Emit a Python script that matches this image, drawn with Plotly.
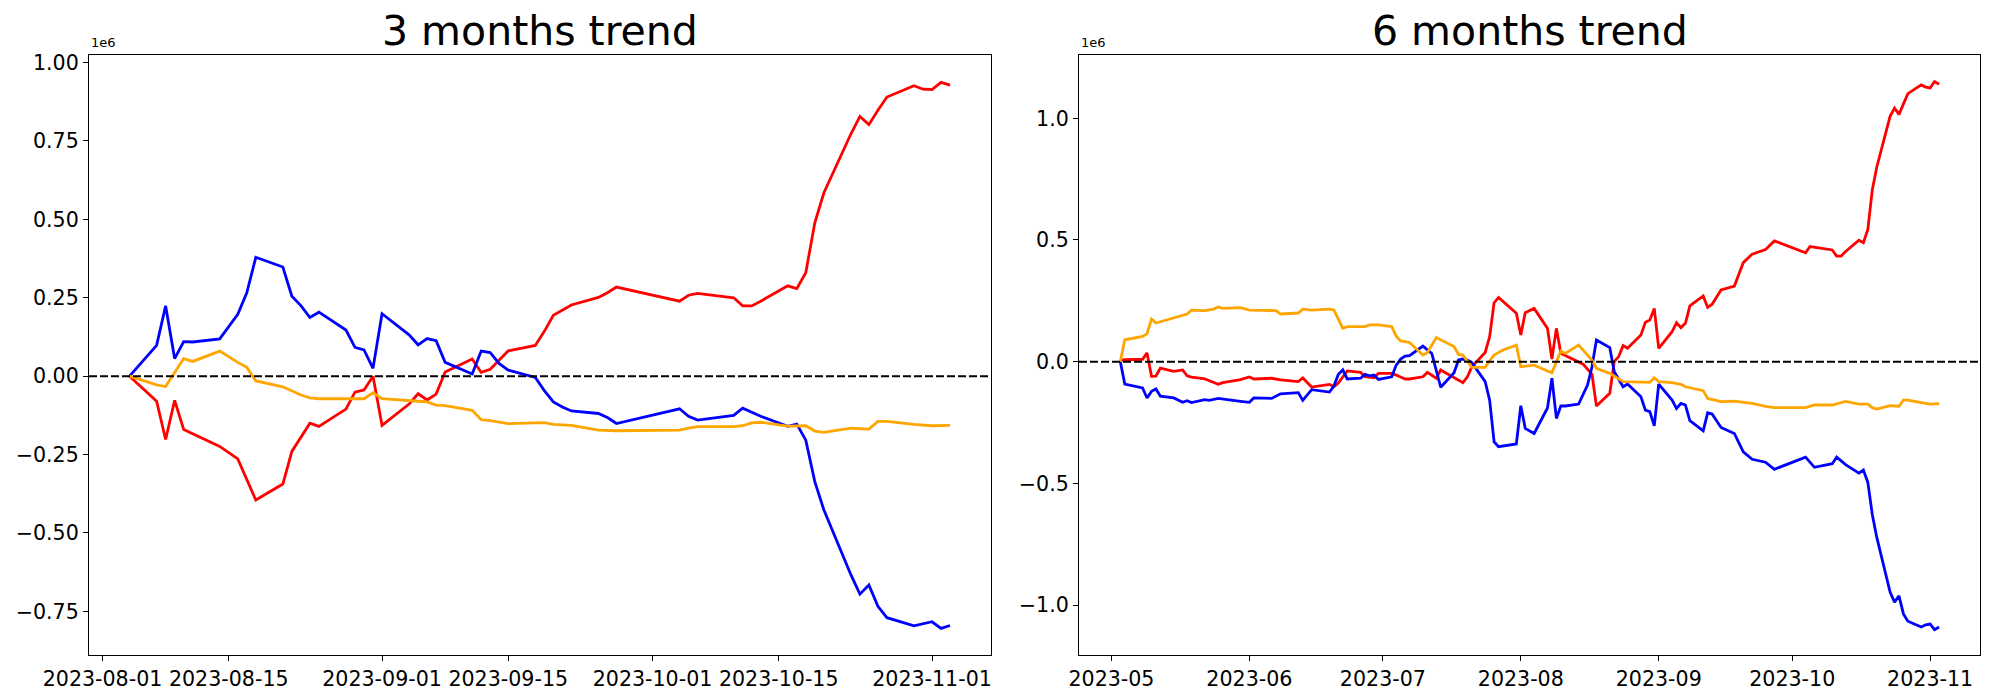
import plotly.graph_objects as go

# ---------------- 3 months data (values in units of 1e6) ----------------
m3_blue_dates = ["08-04","08-07","08-08","08-09","08-10","08-11","08-14","08-16","08-17","08-18",
                 "08-21","08-22","08-23","08-24","08-25","08-28","08-29","08-30","08-31","09-01",
                 "09-04","09-05","09-06","09-07","09-08","09-11","09-12","09-13","09-14","09-15",
                 "09-18","09-19","09-20","09-21","09-22","09-25","09-26","09-27","10-04","10-05",
                 "10-06","10-10","10-11","10-13","10-16","10-17","10-18","10-19","10-20","10-23",
                 "10-24","10-25","10-26","10-27","10-30","11-01","11-02","11-03"]
m3_blue_vals = [0.0, 0.098, 0.224, 0.056, 0.110, 0.109, 0.119, 0.197, 0.266, 0.379,
                0.348, 0.255, 0.225, 0.187, 0.204, 0.147, 0.092, 0.084, 0.025, 0.199,
                0.132, 0.100, 0.120, 0.113, 0.044, 0.007, 0.080, 0.075, 0.040, 0.019,
                -0.004, -0.046, -0.082, -0.098, -0.111, -0.119, -0.132, -0.151, -0.104, -0.128,
                -0.140, -0.125, -0.102, -0.128, -0.160, -0.153, -0.204, -0.336, -0.426, -0.633,
                -0.695, -0.666, -0.734, -0.770, -0.796, -0.783, -0.804, -0.795]

m3_red_dates = ["08-04","08-07","08-08","08-09","08-10","08-14","08-16","08-18","08-21","08-22",
                "08-24","08-25","08-28","08-29","08-30","08-31","09-01","09-04","09-05","09-06",
                "09-07","09-08","09-11","09-12","09-13","09-14","09-15","09-18","09-19","09-20",
                "09-21","09-22","09-25","09-26","09-27","10-04","10-05","10-06","10-10","10-11",
                "10-12","10-13","10-16","10-17","10-18","10-19","10-20","10-23","10-24","10-25",
                "10-26","10-27","10-30","10-31","11-01","11-02","11-03"]
m3_red_vals = [0.0, -0.080, -0.202, -0.077, -0.170, -0.224, -0.264, -0.395, -0.344, -0.240,
               -0.150, -0.160, -0.105, -0.051, -0.044, 0.0, -0.157, -0.089, -0.056, -0.076,
               -0.057, 0.013, 0.055, 0.012, 0.022, 0.053, 0.081, 0.098, 0.143, 0.194,
               0.210, 0.227, 0.251, 0.266, 0.284, 0.239, 0.258, 0.264, 0.250, 0.224,
               0.224, 0.239, 0.288, 0.279, 0.330, 0.489, 0.584, 0.772, 0.828, 0.802,
               0.848, 0.890, 0.926, 0.915, 0.914, 0.937, 0.928]

m3_orange_dates = ["08-04","08-07","08-08","08-10","08-11","08-14","08-16","08-17","08-18","08-21",
                   "08-23","08-24","08-25","08-30","08-31","09-01","09-05","09-06","09-07","09-08",
                   "09-11","09-12","09-13","09-15","09-19","09-20","09-22","09-25","09-27","10-04",
                   "10-05","10-06","10-10","10-11","10-12","10-13","10-16","10-18","10-19","10-20",
                   "10-23","10-25","10-26","10-27","10-30","11-01","11-03"]
m3_orange_vals = [0.0, -0.028, -0.033, 0.056, 0.047, 0.080, 0.044, 0.028, -0.015, -0.034,
                  -0.060, -0.069, -0.072, -0.072, -0.053, -0.072, -0.080, -0.082, -0.092, -0.094,
                  -0.109, -0.139, -0.142, -0.151, -0.148, -0.154, -0.157, -0.172, -0.174, -0.172,
                  -0.166, -0.161, -0.161, -0.158, -0.149, -0.147, -0.159, -0.158, -0.175, -0.179,
                  -0.166, -0.169, -0.144, -0.144, -0.154, -0.158, -0.157]

# ---------------- 6 months data (values in units of 1e6) ----------------
m6_blue_dates = ["05-03","05-04","05-08","05-09","05-10","05-11","05-12","05-15","05-17","05-18",
                 "05-19","05-22","05-23","05-25","05-30","06-01","06-02","06-06","06-08","06-12",
                 "06-13","06-15","06-19","06-20","06-21","06-22","06-23","06-26","06-27","06-28",
                 "06-29","06-30","07-03","07-04","07-05","07-06","07-07","07-10","07-12","07-14",
                 "07-17","07-18","07-19","07-20","07-21","07-24","07-25","07-26","07-27","07-31",
                 "08-01","08-02","08-04","08-07","08-08","08-09","08-10","08-11","08-14","08-16",
                 "08-17","08-18","08-21","08-22","08-24","08-25","08-28","08-29","08-30","08-31",
                 "09-01","09-04","09-05","09-06","09-07","09-08","09-11","09-12","09-13","09-15",
                 "09-18","09-20","09-22","09-25","09-27","10-04","10-06","10-10","10-11","10-13",
                 "10-16","10-17","10-18","10-19","10-20","10-23","10-24","10-25","10-26","10-27",
                 "10-30","10-31","11-01","11-02","11-03"]
m6_blue_vals = [0.0, -0.092, -0.108, -0.149, -0.122, -0.112, -0.142, -0.149, -0.167, -0.160,
                -0.168, -0.156, -0.159, -0.151, -0.163, -0.167, -0.149, -0.151, -0.132, -0.127,
                -0.159, -0.115, -0.125, -0.100, -0.052, -0.034, -0.071, -0.068, -0.052, -0.058,
                -0.055, -0.073, -0.062, -0.014, 0.011, 0.023, 0.025, 0.064, 0.034, -0.105,
                -0.045, 0.007, 0.011, 0.007, -0.004, -0.082, -0.158, -0.329, -0.349, -0.338,
                -0.181, -0.274, -0.295, -0.190, -0.068, -0.233, -0.182, -0.182, -0.174, -0.096,
                -0.021, 0.089, 0.058, -0.041, -0.103, -0.092, -0.144, -0.199, -0.205, -0.264,
                -0.092, -0.158, -0.192, -0.171, -0.178, -0.242, -0.284, -0.210, -0.215, -0.270,
                -0.295, -0.370, -0.401, -0.413, -0.442, -0.392, -0.434, -0.419, -0.392, -0.423,
                -0.458, -0.445, -0.496, -0.628, -0.721, -0.946, -0.988, -0.962, -1.036, -1.066,
                -1.090, -1.081, -1.078, -1.101, -1.090]

m6_red_dates = ["05-03","05-04","05-08","05-09","05-10","05-11","05-12","05-15","05-17","05-18",
                "05-19","05-22","05-23","05-25","05-26","05-30","06-01","06-02","06-06","06-08",
                "06-12","06-13","06-15","06-19","06-20","06-21","06-23","06-26","06-27","06-29",
                "06-30","07-03","07-04","07-06","07-07","07-10","07-11","07-13","07-14","07-19",
                "07-20","07-21","07-24","07-25","07-26","07-27","07-31","08-01","08-02","08-04",
                "08-07","08-08","08-09","08-10","08-11","08-15","08-17","08-18","08-21","08-22",
                "08-23","08-24","08-25","08-28","08-29","08-30","08-31","09-01","09-04","09-05",
                "09-06","09-07","09-08","09-11","09-12","09-13","09-15","09-18","09-20","09-22",
                "09-25","09-27","10-04","10-05","10-10","10-11","10-12","10-13","10-16","10-17",
                "10-18","10-19","10-20","10-23","10-24","10-25","10-27","10-30","10-31","11-01",
                "11-02","11-03"]
m6_red_vals = [0.005, 0.008, 0.010, 0.036, -0.060, -0.059, -0.026, -0.040, -0.034, -0.058,
               -0.063, -0.071, -0.078, -0.093, -0.086, -0.074, -0.063, -0.071, -0.068, -0.075,
               -0.082, -0.067, -0.104, -0.093, -0.103, -0.088, -0.038, -0.044, -0.062, -0.066,
               -0.048, -0.048, -0.055, -0.071, -0.071, -0.062, -0.044, -0.068, -0.034, -0.086,
               -0.062, -0.021, 0.038, 0.103, 0.242, 0.264, 0.199, 0.110, 0.201, 0.219,
               0.137, 0.011, 0.137, 0.034, 0.025, -0.010, -0.052, -0.182, -0.130, 0.000,
               0.021, 0.066, 0.055, 0.110, 0.162, 0.171, 0.219, 0.055, 0.123, 0.160,
               0.140, 0.158, 0.229, 0.270, 0.223, 0.236, 0.295, 0.311, 0.407, 0.442,
               0.461, 0.496, 0.447, 0.473, 0.459, 0.434, 0.434, 0.453, 0.499, 0.489,
               0.543, 0.706, 0.799, 1.008, 1.042, 1.016, 1.101, 1.137, 1.128, 1.125,
               1.151, 1.140]

m6_orange_dates = ["05-03","05-04","05-08","05-09","05-10","05-11","05-18","05-19","05-22","05-24",
                   "05-25","05-26","05-30","06-01","06-07","06-08","06-12","06-13","06-15","06-19",
                   "06-20","06-22","06-23","06-27","06-28","06-30","07-03","07-04","07-05","07-07",
                   "07-10","07-11","07-13","07-17","07-18","07-19","07-21","07-24","07-25","07-26",
                   "07-28","07-31","08-01","08-04","08-07","08-08","08-10","08-11","08-14","08-17",
                   "08-18","08-21","08-24","08-30","08-31","09-01","09-04","09-06","09-07","09-11",
                   "09-12","09-15","09-18","09-22","09-25","09-27","10-04","10-06","10-10","10-11",
                   "10-13","10-16","10-18","10-19","10-20","10-23","10-25","10-26","10-27","10-30",
                   "11-01","11-03"]
m6_orange_vals = [0.0, 0.090, 0.104, 0.115, 0.175, 0.159, 0.196, 0.212, 0.210, 0.216,
                  0.225, 0.219, 0.222, 0.212, 0.210, 0.196, 0.200, 0.216, 0.212, 0.216,
                  0.212, 0.137, 0.144, 0.144, 0.151, 0.151, 0.144, 0.105, 0.085, 0.079,
                  0.027, 0.037, 0.099, 0.062, 0.030, 0.027, -0.023, -0.023, 0.004, 0.027,
                  0.048, 0.068, -0.021, -0.014, -0.038, -0.045, 0.044, 0.034, 0.068, 0.007,
                  -0.027, -0.048, -0.082, -0.085, -0.066, -0.082, -0.086, -0.093, -0.103, -0.119,
                  -0.151, -0.164, -0.162, -0.171, -0.184, -0.189, -0.189, -0.178, -0.178, -0.174,
                  -0.163, -0.174, -0.174, -0.189, -0.195, -0.181, -0.183, -0.158, -0.158, -0.168,
                  -0.174, -0.172]

titles = ["3 months trend", "6 months trend"]
m3_xticks = ["2023-08-01", "2023-08-15", "2023-09-01", "2023-09-15", "2023-10-01", "2023-10-15", "2023-11-01"]
m6_xticks = ["2023-05-01", "2023-06-01", "2023-07-01", "2023-08-01", "2023-09-01", "2023-10-01", "2023-11-01"]
m6_xtick_text = ["2023-05", "2023-06", "2023-07", "2023-08", "2023-09", "2023-10", "2023-11"]
m3_yticks = [-0.75, -0.50, -0.25, 0.00, 0.25, 0.50, 0.75, 1.00]
m6_yticks = [-1.0, -0.5, 0.0, 0.5, 1.0]

RED, BLUE, ORANGE = "#ff0000", "#0000ff", "#ffa500"
FONT = "DejaVu Sans"
W, H = 2000, 700


def full(ds):
    return ["2023-" + d for d in ds]


def fmt(v, nd):
    s = f"{v:.{nd}f}"
    return s.replace("-", "\u2212")


fig = go.Figure()
series = [
    ("x", "y", m3_red_dates, m3_red_vals, RED),
    ("x", "y", m3_blue_dates, m3_blue_vals, BLUE),
    ("x", "y", m3_orange_dates, m3_orange_vals, ORANGE),
    ("x2", "y2", m6_red_dates, m6_red_vals, RED),
    ("x2", "y2", m6_blue_dates, m6_blue_vals, BLUE),
    ("x2", "y2", m6_orange_dates, m6_orange_vals, ORANGE),
]
for xa, ya, ds, vs, col in series:
    fig.add_trace(go.Scatter(x=full(ds), y=vs, mode="lines", xaxis=xa, yaxis=ya,
                             line=dict(color=col, width=2.8), showlegend=False))

# axes domains (pixel measured)
d1 = [89 / W, 991 / W]
d2 = [1079 / W, 1980 / W]
yd = [(H - 655) / H, (H - 55) / H]

axis_common = dict(showline=True, linecolor="black", linewidth=1.1, mirror=True,
                   ticks="outside", ticklen=5, tickwidth=1.1, tickcolor="black",
                   showgrid=False, zeroline=False, automargin=False,
                   tickfont=dict(family=FONT, size=20.6, color="black"))

fig.update_layout(
    width=W, height=H, margin=dict(l=0, r=0, t=0, b=0, autoexpand=False),
    plot_bgcolor="white", paper_bgcolor="white",
    xaxis=dict(domain=d1, anchor="y", type="date",
               range=["2023-07-30 12:00", "2023-11-07 13:00"],
               tickvals=m3_xticks, ticktext=m3_xticks, **axis_common),
    yaxis=dict(domain=yd, anchor="x", range=[-0.889, 1.024],
               tickvals=m3_yticks, ticktext=[fmt(v, 2) for v in m3_yticks], **axis_common),
    xaxis2=dict(domain=d2, anchor="y2", type="date",
                range=["2023-04-23 17:00", "2023-11-12 05:00"],
                tickvals=m6_xticks, ticktext=m6_xtick_text, **axis_common),
    yaxis2=dict(domain=yd, anchor="x2", range=[-1.205, 1.26],
                tickvals=m6_yticks, ticktext=[fmt(v, 1) for v in m6_yticks], **axis_common),
)

# zero dashed lines
for xr, yr in [("x domain", "y"), ("x2 domain", "y2")]:
    fig.add_shape(type="line", xref=xr, yref=yr, x0=0, x1=1, y0=0, y1=0,
                  line=dict(color="black", width=2, dash="8px,3px"), layer="above")

# titles and offset labels
for dom, t in [(d1, titles[0]), (d2, titles[1])]:
    fig.add_annotation(text=t, xref="paper", yref="paper", x=(dom[0] + dom[1]) / 2,
                       y=(H - 31) / H, xanchor="center", yanchor="middle", showarrow=False,
                       font=dict(family=FONT, size=41, color="black"))
    fig.add_annotation(text="1e6", xref="paper", yref="paper", x=dom[0], y=(H - 52) / H,
                       xanchor="left", yanchor="bottom", showarrow=False,
                       font=dict(family=FONT, size=13, color="black"))

fig.write_html("out.html", config={"displayModeBar": False},
               post_script="document.body.style.margin='0px';")
